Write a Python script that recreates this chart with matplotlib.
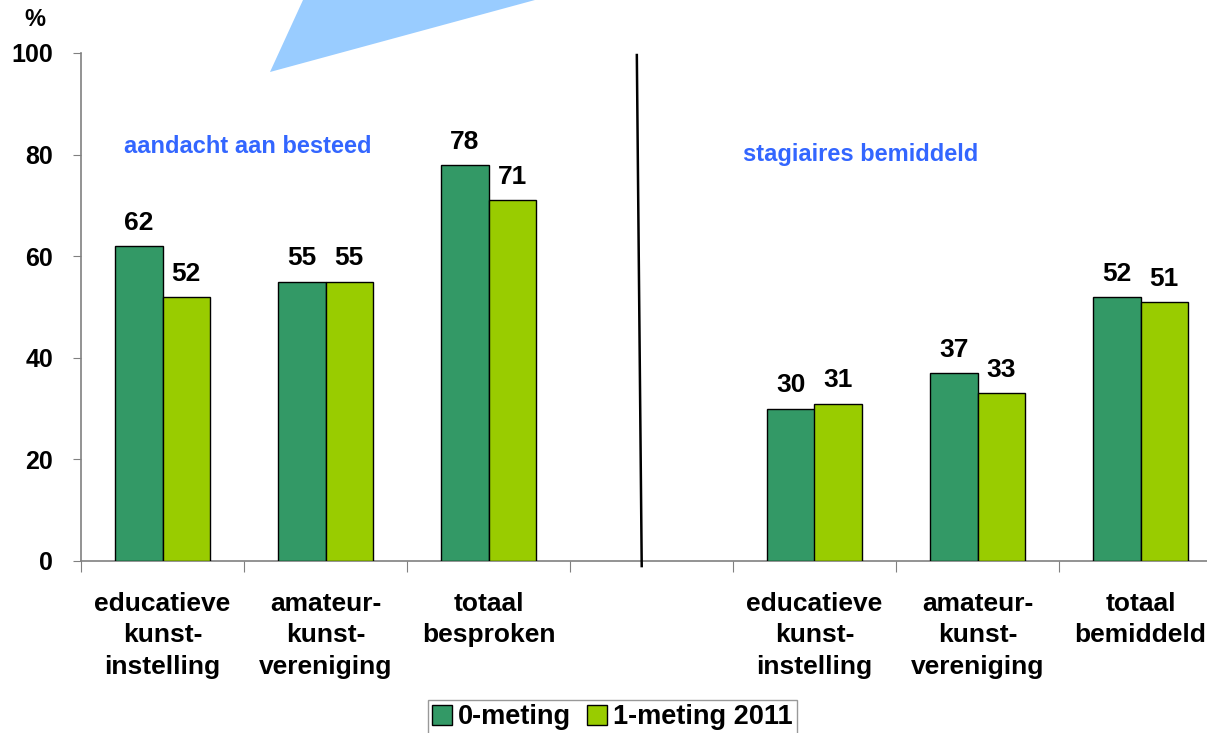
import numpy as np
import matplotlib.pyplot as plt
from matplotlib.patches import Polygon, Patch

categories = ["educatieve\nkunst-\ninstelling", "amateur-\nkunst-\nvereniging", "totaal\nbesproken", "",
              "educatieve\nkunst-\ninstelling", "amateur-\nkunst-\nvereniging", "totaal\nbemiddeld"]
meting0 = [62, 55, 78, None, 30, 37, 52]
meting1 = [52, 55, 71, None, 31, 33, 51]
series_names = ["0-meting", "1-meting 2011"]
section_titles = ["aandacht aan besteed", "stagiaires bemiddeld"]

plt.rcParams['font.family'] = ['Liberation Sans', 'DejaVu Sans']
plt.rcParams['font.weight'] = 'bold'

W, H = 1207, 733
fig = plt.figure(figsize=(W / 100, H / 100), dpi=100)
ax = fig.add_axes([81 / W, 1 - 561 / H, (1222 - 81) / W, (561 - 53) / H])

# decorative triangle at the top
fig.patches.append(Polygon([(270 / W, 1 - 72 / H), (303 / W, 1.0), (535 / W, 1.0)],
                           closed=True, transform=fig.transFigure, facecolor='#99CCFF',
                           edgecolor='none'))

c0, c1 = '#339966', '#99CC00'
bw = 0.29
fs = 19
x = np.arange(len(categories))
for i in range(len(categories)):
    if meting0[i] is None:
        continue
    ax.bar(x[i] - bw / 2, meting0[i], bw, color=c0, edgecolor='black', linewidth=1, zorder=3)
    ax.bar(x[i] + bw / 2, meting1[i], bw, color=c1, edgecolor='black', linewidth=1, zorder=3)
    ax.text(x[i] - bw / 2, meting0[i] + 2.2, str(meting0[i]), ha='center', va='bottom',
            fontsize=fs, fontweight='bold')
    ax.text(x[i] + bw / 2, meting1[i] + 2.2, str(meting1[i]), ha='center', va='bottom',
            fontsize=fs, fontweight='bold')

ax.set_xlim(-0.5, len(categories) - 0.5)
ax.set_ylim(0, 100)
ax.set_yticks([0, 20, 40, 60, 80, 100])
ax.set_xticks(np.arange(-0.5, len(categories), 1))
ax.set_xticklabels([])
ax.set_xticks(x, minor=True)
ax.set_xticklabels(categories, minor=True, fontsize=fs, fontweight='bold', linespacing=1.4)
ax.tick_params(axis='x', which='minor', length=0, pad=22)
ax.tick_params(axis='x', which='major', length=8, color='#808080', direction='out')
ax.tick_params(axis='y', length=6, color='#808080', labelsize=18, pad=14)
for lab in ax.get_yticklabels():
    lab.set_fontweight('bold')

for s in ['top', 'right']:
    ax.spines[s].set_visible(False)
for s in ['left', 'bottom']:
    ax.spines[s].set_color('#808080')
    ax.spines[s].set_linewidth(1.2)

# separator line between the two sections
ax.plot([2.91, 2.94], [99.6, -1], color='black', linewidth=1.8, clip_on=False, zorder=4)

ax.text(0.52, 81.5, section_titles[0], ha='center', va='center', fontsize=17,
        fontweight='bold', color='#3366FF')
ax.text(4.28, 80, section_titles[1], ha='center', va='center', fontsize=17,
        fontweight='bold', color='#3366FF')

fig.text(35 / W, 1 - 20 / H, '%', ha='center', va='center', fontsize=17, fontweight='bold')

handles = [Patch(facecolor=c0, edgecolor='black'), Patch(facecolor=c1, edgecolor='black')]
leg = fig.legend(handles, series_names, loc='upper left', bbox_to_anchor=(428 / W, 1 - 700 / H),
                 ncol=2, frameon=True, fancybox=False, handlelength=0.75,
                 handleheight=0.75, handletextpad=0.2, columnspacing=0.6, borderpad=0.15,
                 borderaxespad=0, prop={'weight': 'bold', 'size': 19.5})
leg.get_frame().set_edgecolor('#808080')
leg.get_frame().set_linewidth(1)

fig.savefig('out.png', dpi=100)
